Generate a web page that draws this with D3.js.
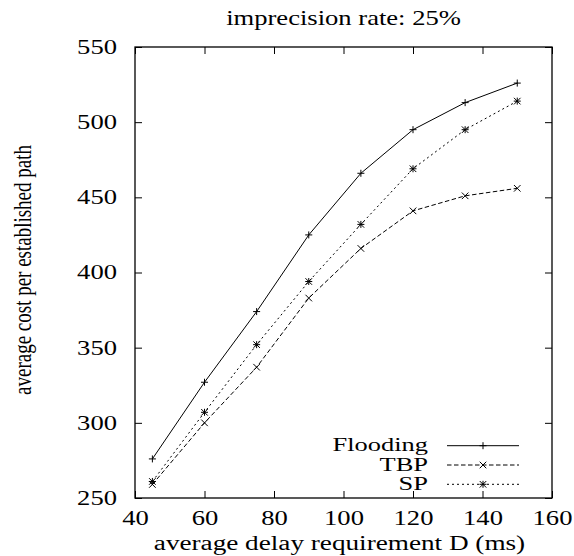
<!DOCTYPE html>
<html>
<head>
<meta charset="utf-8">
<script src="https://cdn.jsdelivr.net/npm/d3@7"></script>
<style>
  body { margin: 0; background: #fff; }
  svg text { font-family: "Liberation Serif", "Times New Roman", serif; fill: #000; }
</style>
</head>
<body>
<div id="chart"></div>
<script>
// data
const delays = [45, 60, 75, 90, 105, 120, 135, 150];
const flooding = [276, 327, 374, 425, 466, 495, 513, 526];
const tbp = [259, 300, 337, 383, 416, 441, 451, 456];
const sp = [261, 307, 352, 394, 432, 469, 495, 514];
const xTicks = [40, 60, 80, 100, 120, 140, 160];
const yTicks = [250, 300, 350, 400, 450, 500, 550];

const seriesNames = ["Flooding", "TBP", "SP"];
const seriesValues = [flooding, tbp, sp];

const width = 574, height = 556;
const margin = {top: 47, bottom: 58, left: 135, right: 22};
const SX = 1.33;     // text is stretched sideways in the original
const fontSize = 20;
const serif = '"Liberation Serif", "Times New Roman", serif';

const svg = d3.select('#chart')
    .append('svg')
    .attr('width', width)
    .attr('height', height);

const xScale = d3.scaleLinear()
    .domain([40, 160])
    .range([margin.left, width - margin.right]);

const yScale = d3.scaleLinear()
    .domain([250, 550])
    .range([height - margin.bottom, margin.top]);

const dashes = {"Flooding": null, "TBP": "4.5,2.5", "SP": "2,3"};

// axes with inward ticks
const tickLen = 7;

const xAxisB = svg.append('g')
    .attr('transform', `translate(0,${height - margin.bottom})`)
    .call(d3.axisBottom(xScale).tickValues(xTicks).tickSize(-tickLen).tickPadding(13));
const xAxisT = svg.append('g')
    .attr('transform', `translate(0,${margin.top})`)
    .call(d3.axisTop(xScale).tickValues(xTicks).tickSize(-tickLen).tickFormat(''));
const yAxisL = svg.append('g')
    .attr('transform', `translate(${margin.left},0)`)
    .call(d3.axisLeft(yScale).tickValues(yTicks).tickSize(-tickLen).tickPadding(18));
const yAxisR = svg.append('g')
    .attr('transform', `translate(${width - margin.right},0)`)
    .call(d3.axisRight(yScale).tickValues(yTicks).tickSize(-tickLen).tickFormat(''));

[xAxisB, xAxisT, yAxisL, yAxisR].forEach(ax => {
    ax.attr('font-family', null).attr('font-size', null);
    ax.select('.domain').remove();
    ax.selectAll('line').attr('stroke', '#000').attr('stroke-width', 1);
    ax.selectAll('text')
        .style('font-family', serif)
        .style('font-size', fontSize + 'px')
        .attr('fill', '#000');
});
yAxisL.selectAll('text')
    .attr('x', -18 / SX)
    .attr('transform', `scale(${SX},1)`);
xAxisB.selectAll('text')
    .attr('transform', `scale(${SX},1)`);

// frame
svg.append('rect')
    .attr('x', margin.left)
    .attr('y', margin.top)
    .attr('width', width - margin.left - margin.right)
    .attr('height', height - margin.top - margin.bottom)
    .attr('fill', 'none')
    .attr('stroke', '#000')
    .attr('stroke-width', 1.3);

// markers
const plusPath = d3.symbol().type(d3.symbolPlus).size(18)();
const timesPath = d3.symbol().type(d3.symbolTimes).size(30)();

function drawMarker(g, name, x, y) {
    const t = `translate(${x},${y})`;
    if (name === "Flooding" || name === "SP") {
        g.append('path').attr('d', plusPath).attr('transform', t)
            .attr('stroke', '#000').attr('stroke-width', 1).attr('fill', 'none');
    }
    if (name === "TBP" || name === "SP") {
        g.append('path').attr('d', timesPath).attr('transform', t)
            .attr('stroke', '#000').attr('stroke-width', 1).attr('fill', 'none');
    }
}

const line = d3.line()
    .x((d, i) => xScale(delays[i]))
    .y(d => yScale(d));

seriesNames.forEach((name, k) => {
    const vals = seriesValues[k];
    svg.append('path')
        .datum(vals)
        .attr('d', line)
        .attr('fill', 'none')
        .attr('stroke', '#000')
        .attr('stroke-width', 1)
        .attr('stroke-dasharray', dashes[name]);
    const g = svg.append('g');
    vals.forEach((v, i) => drawMarker(g, name, xScale(delays[i]), yScale(v)));
});

// legend
const legendY = [445.7, 465, 484.3];
seriesNames.forEach((name, k) => {
    const y = legendY[k];
    svg.append('text')
        .attr('transform', `translate(428,${y}) scale(1.47,1)`)
        .attr('dy', '0.32em')
        .attr('text-anchor', 'end')
        .style('font-family', serif)
        .style('font-size', '18px')
        .text(name);
    svg.append('line')
        .attr('x1', 447).attr('x2', 519)
        .attr('y1', y).attr('y2', y)
        .attr('stroke', '#000')
        .attr('stroke-width', 1)
        .attr('stroke-dasharray', dashes[name]);
    drawMarker(svg, name, 483, y);
});

// title
svg.append('text')
    .attr('transform', `translate(${(margin.left + width - margin.right) / 2},25) scale(${SX},1)`)
    .attr('text-anchor', 'middle')
    .style('font-family', serif)
    .style('font-size', fontSize + 'px')
    .text('imprecision rate: 25%');

// x-axis label
svg.append('text')
    .attr('transform', `translate(${(margin.left + width - margin.right) / 2 - 4},550) scale(1.36,1)`)
    .attr('text-anchor', 'middle')
    .style('font-family', serif)
    .style('font-size', fontSize + 'px')
    .text('average delay requirement D (ms)');

// y-axis label
svg.append('text')
    .attr('transform', `translate(31,270) scale(${SX},1) rotate(-90)`)
    .attr('text-anchor', 'middle')
    .style('font-family', serif)
    .style('font-size', '19px')
    .text('average cost per established path');
</script>
</body>
</html>
